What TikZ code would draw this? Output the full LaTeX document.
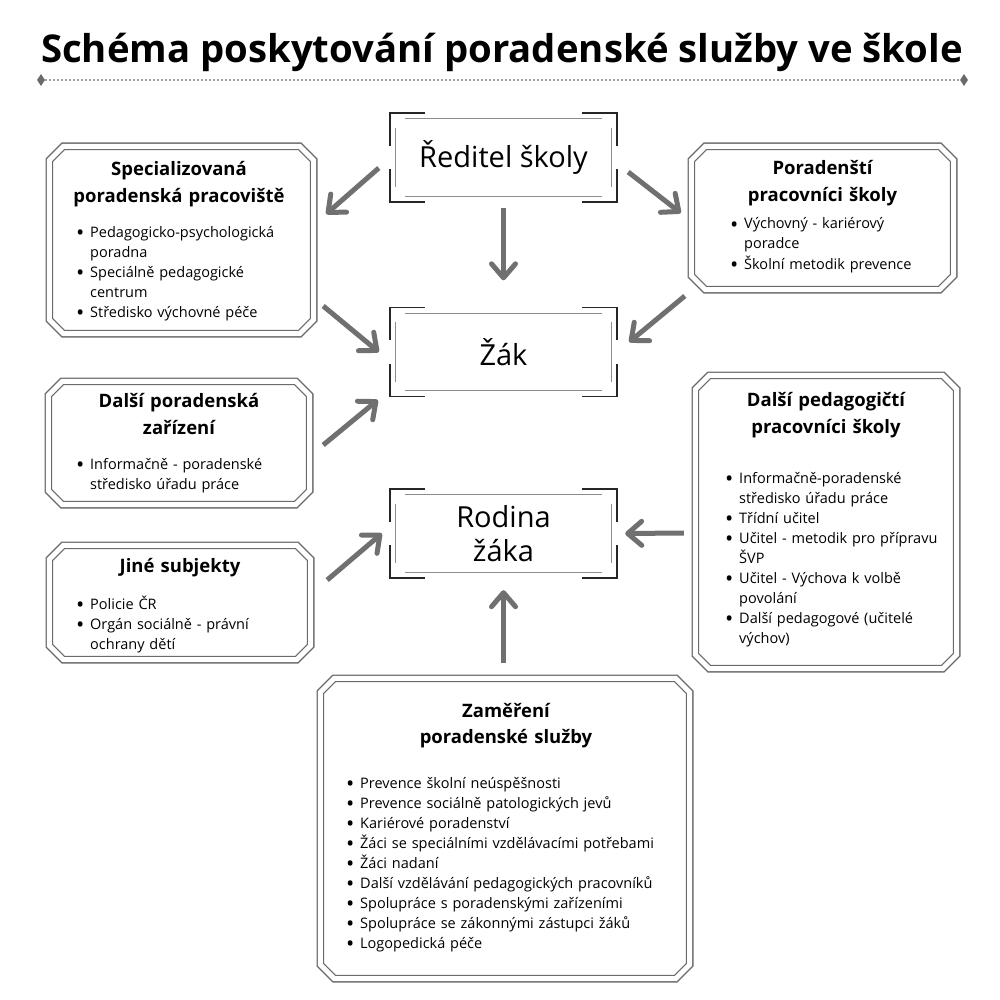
\documentclass[tikz,border=0pt]{standalone}
\usepackage{fontspec}
\setmainfont{Open Sans}
\usetikzlibrary{arrows.meta,calc,shapes.geometric}
\definecolor{cardgray}{HTML}{6A6A6A}
\definecolor{arrowgray}{HTML}{707070}
\definecolor{framegray}{HTML}{8C8C8C}
\definecolor{dotgray}{HTML}{9A9A9A}
\newcommand{\bitem}{\hyphenpenalty=10000\relax\exhyphenpenalty=10000\relax
 \noindent\hangindent=14pt\hangafter=1\makebox[14pt][l]{\raisebox{-3.5pt}{\fontsize{22}{20}\selectfont\textbullet}}}

\begin{document}
\begin{tikzpicture}[x=1pt,y=1pt,
card/.style={inner sep=0pt},
cardline/.style={draw=cardgray,line width=1.3pt,double=white,double distance=5pt},
midbox/.style={minimum width=227pt,minimum height=89pt,inner sep=0pt,align=center,font=\fontsize{29}{34}\selectfont},
bracket/.style={draw=black!85,line width=1.5pt},
innerline/.style={draw=framegray,line width=1.2pt},
cardtitle/.style={anchor=base,align=center,inner sep=0pt,font=\bfseries\fontsize{18.5}{27}\selectfont},
cardlist/.style={anchor=base west,align=left,inner sep=0pt,font=\fontsize{14.5}{20}\selectfont},
arrow/.style={draw=arrowgray,line width=5pt,-{Straight Barb[length=14pt,width=24pt,round]}},
dotline/.style={draw=dotgray,line width=2pt,dash pattern=on 1.6pt off 2.4pt},
endmark/.style={diamond,fill=cardgray,inner sep=0pt,minimum width=8pt,minimum height=12pt}]
\useasboundingbox (0,0) rectangle (1000,-1000);
% title and rule
\node[anchor=base,inner sep=0pt,font=\bfseries\fontsize{38.3}{42}\selectfont] (title) at (502,-63) {Schéma poskytování poradenské služby ve škole};
\node[endmark] (ruleL) at (41,-80) {};
\node[endmark] (ruleR) at (964,-80) {};
\draw[dotline] (ruleL) -- (ruleR);
% centre column
\node[midbox] (reditel) at (503.5,-157.5) {Ředitel školy};
\node[midbox] (zak) at (503.5,-352) {Žák};
\node[midbox,minimum height=89pt] (rodina) at (503.5,-533.5) {Rodina\\žáka};
\foreach \n in {reditel,zak,rodina}{
 \draw[bracket] ([yshift=-33pt]\n.north west) -- (\n.north west) -- ([xshift=35pt]\n.north west);
 \draw[bracket] ([xshift=-35pt]\n.north east) -- (\n.north east) -- ([yshift=-33pt]\n.north east);
 \draw[bracket] ([yshift=33pt]\n.south west) -- (\n.south west) -- ([xshift=35pt]\n.south west);
 \draw[bracket] ([xshift=-35pt]\n.south east) -- (\n.south east) -- ([yshift=33pt]\n.south east);
 \draw[innerline] ([xshift=15pt,yshift=-6pt]\n.north west) -- ([xshift=-15pt,yshift=-6pt]\n.north east);
 \draw[innerline] ([xshift=15pt,yshift=6pt]\n.south west) -- ([xshift=-15pt,yshift=6pt]\n.south east);
 \draw[innerline] ([xshift=6pt,yshift=-15pt]\n.north west) -- ([xshift=6pt,yshift=15pt]\n.south west);
 \draw[innerline] ([xshift=-6pt,yshift=-15pt]\n.north east) -- ([xshift=-6pt,yshift=15pt]\n.south east);
}
% side cards
\node[card,minimum width=264pt,minimum height=187pt] (spec) at (181.5,-240) {};
\node[card,minimum width=262pt,minimum height=143pt] (pora) at (822.5,-218) {};
\node[card,minimum width=261pt,minimum height=123pt] (dalsi) at (179,-443) {};
\node[card,minimum width=261pt,minimum height=114pt] (jine) at (180,-602.5) {};
\node[card,minimum width=261pt,minimum height=293pt] (pedag) at (826,-522) {};
\node[card,minimum width=369pt,minimum height=300pt] (zamer) at (505,-828.5) {};
\foreach \n in {spec,pora,dalsi,jine,pedag,zamer}
 \draw[cardline] ([xshift=14pt]\n.north west) -- ([xshift=-14pt]\n.north east) -- ([yshift=-14pt]\n.north east)
  -- ([yshift=14pt]\n.south east) -- ([xshift=-14pt]\n.south east) -- ([xshift=14pt]\n.south west)
  -- ([yshift=14pt]\n.south west) -- ([yshift=-14pt]\n.north west) -- cycle;
\node[cardtitle,text width=240pt] (specT) at (179,-176) {Specializovaná\\poradenská pracoviště};
\node[cardlist,text width=225pt] (specL) at (76,-237) {\bitem Pedagogicko-psychologická\newline poradna\par
 \bitem Speciálně pedagogické\newline centrum\par
 \bitem Středisko výchovné péče\par};
\node[cardtitle,text width=240pt] (poraT) at (822.5,-175) {Poradenští\\pracovníci školy};
\node[cardlist,text width=210pt] (poraL) at (730,-229) {\bitem Výchovný - kariérový\newline poradce\par
 \bitem Školní metodik prevence\par};
\node[cardtitle,text width=240pt] (dalsiT) at (179,-407) {Další poradenská\\zařízení};
\node[cardlist,text width=225pt] (dalsiL) at (76,-469) {\bitem Informačně - poradenské\newline středisko úřadu práce\par};
\node[cardtitle,text width=240pt] (jineT) at (180,-572) {Jiné subjekty};
\node[cardlist,text width=225pt] (jineL) at (76,-609) {\bitem Policie ČR\par
 \bitem Orgán sociálně - právní\newline ochrany dětí\par};
\node[cardtitle,text width=240pt] (pedagT) at (826,-406) {Další pedagogičtí\\pracovníci školy};
\node[cardlist,text width=225pt] (pedagL) at (725,-483) {\bitem Informačně-poradenské\newline středisko úřadu práce\par
 \bitem Třídní učitel\par
 \bitem Učitel - metodik pro přípravu\newline ŠVP\par
 \bitem Učitel - Výchova k volbě\newline povolání\par
 \bitem Další pedagogové (učitelé\newline výchov)\par};
\node[cardtitle,text width=340pt,font=\bfseries\fontsize{18.5}{26}\selectfont] (zamerT) at (506,-717) {Zaměření\\poradenské služby};
\node[cardlist,text width=330pt] (zamerL) at (346,-788) {\bitem Prevence školní neúspěšnosti\par
 \bitem Prevence sociálně patologických jevů\par
 \bitem Kariérové poradenství\par
 \bitem Žáci se speciálními vzdělávacími potřebami\par
 \bitem Žáci nadaní\par
 \bitem Další vzdělávání pedagogických pracovníků\par
 \bitem Spolupráce s poradenskými zařízeními\par
 \bitem Spolupráce se zákonnými zástupci žáků\par
 \bitem Logopedická péče\par};
% arrows
\draw[arrow] ($(reditel.west)+(-11,-10.5)$) -- ($(spec.east)+(12.5,26)$);
\draw[arrow] ($(reditel.south)+(0,-6)$) -- ($(zak.north)+(0,27)$);
\draw[arrow] ($(reditel.east)+(11,-14.5)$) -- ($(pora.west)+(-10.5,5)$);
\draw[arrow] ($(pora.west)+(-6.5,-78)$) -- ($(zak.east)+(12,10)$);
\draw[arrow] ($(spec.east)+(9.5,-66)$) -- ($(zak.west)+(-11,0)$);
\draw[arrow] ($(dalsi.east)+(13.5,-2)$) -- ($(zak.west)+(-12,-48)$);
\draw[arrow] ($(jine.east)+(16.5,22.5)$) -- ($(rodina.west)+(-8,0)$);
\draw[arrow] ($(pedag.west)+(-11.5,-11)$) -- ($(rodina.east)+(8,0)$);
\draw[arrow] ($(zamer.north)+(-1.5,15.5)$) -- ($(rodina.south)+(0,-12)$);
\end{tikzpicture}
\end{document}
